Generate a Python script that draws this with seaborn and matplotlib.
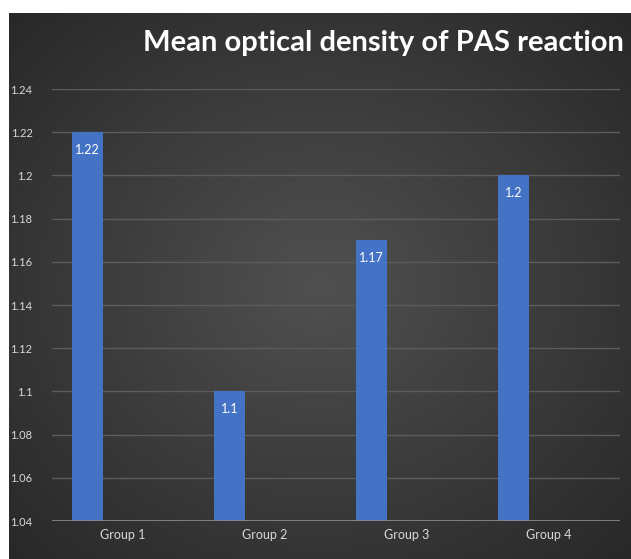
import numpy as np
import pandas as pd
import matplotlib
matplotlib.use("Agg")
import matplotlib.pyplot as plt
import seaborn as sns

# Dados do gráfico
grupos = ["Group 1", "Group 2", "Group 3", "Group 4"]
densidade = [1.22, 1.10, 1.17, 1.20]
rotulos = ["1.22", "1.1", "1.17", "1.2"]
yticks = [1.04, 1.06, 1.08, 1.10, 1.12, 1.14, 1.16, 1.18, 1.20, 1.22, 1.24]
ytick_labels = ["1.04", "1.06", "1.08", "1.1", "1.12", "1.14", "1.16", "1.18", "1.2", "1.22", "1.24"]

# Série vazia para reproduzir o deslocamento das barras (estilo Excel)
df = pd.DataFrame({
    "Grupo": grupos + grupos,
    "Valor": densidade + [np.nan] * 4,
    "Serie": ["s1"] * 4 + ["s2"] * 4,
})

sns.set_style("dark")
plt.rcParams["font.family"] = ["Lato", "DejaVu Sans"]

fig = plt.figure(figsize=(6.31, 5.59), dpi=100)
fig.patch.set_facecolor("white")

# Fundo escuro com gradiente radial
bg = fig.add_axes([9 / 631, 0, 1 - 9 / 631, 1 - 13 / 559])
yy, xx = np.mgrid[-1:1:300j, -1:1:300j]
r = np.sqrt(xx ** 2 + yy ** 2)
grad = np.clip(1 - r / 1.45, 0, 1)
bg.imshow(grad, cmap=matplotlib.colors.LinearSegmentedColormap.from_list(
    "bg", ["#282828", "#505050"]), aspect="auto", extent=[0, 1, 0, 1])
bg.axis("off")

ax = fig.add_axes([52 / 631, 1 - 521 / 559, 568 / 631, (521 - 89) / 559])
ax.patch.set_alpha(0)

sns.barplot(data=df, x="Grupo", y="Valor", hue="Serie", hue_order=["s1", "s2"],
            palette=["#4472C4", "#4472C4"], width=1.0, gap=0.55,
            legend=False, ax=ax, saturation=1, linewidth=0)

ax.set_ylim(1.04, 1.24)
ax.set_xlim(-0.5, 3.5)
ax.set_yticks(yticks)
ax.set_yticklabels(ytick_labels)
ax.yaxis.grid(True, color="#5c5c5c", linewidth=1)
ax.xaxis.grid(False)
ax.set_axisbelow(True)
ax.axhline(1.04, color="#8c8c8c", linewidth=1.2)
for s in ax.spines.values():
    s.set_visible(False)
ax.tick_params(axis="y", colors="#d9d9d9", labelsize=8, length=0, pad=14)
ax.tick_params(axis="x", colors="#d9d9d9", labelsize=9, length=0, pad=6)
ax.set_xlabel("")
ax.set_ylabel("")

# Rótulos dentro das barras
for cont in ax.containers:
    if len(cont) and not np.isnan(cont.datavalues).all():
        ax.bar_label(cont, labels=rotulos, padding=-17, color="white", fontsize=9)

fig.text(0.608, 1 - 43 / 559, "Mean optical density of PAS reaction", color="white",
         fontsize=21, fontweight="bold", ha="center", va="center")

fig.savefig("out.png", dpi=100)
